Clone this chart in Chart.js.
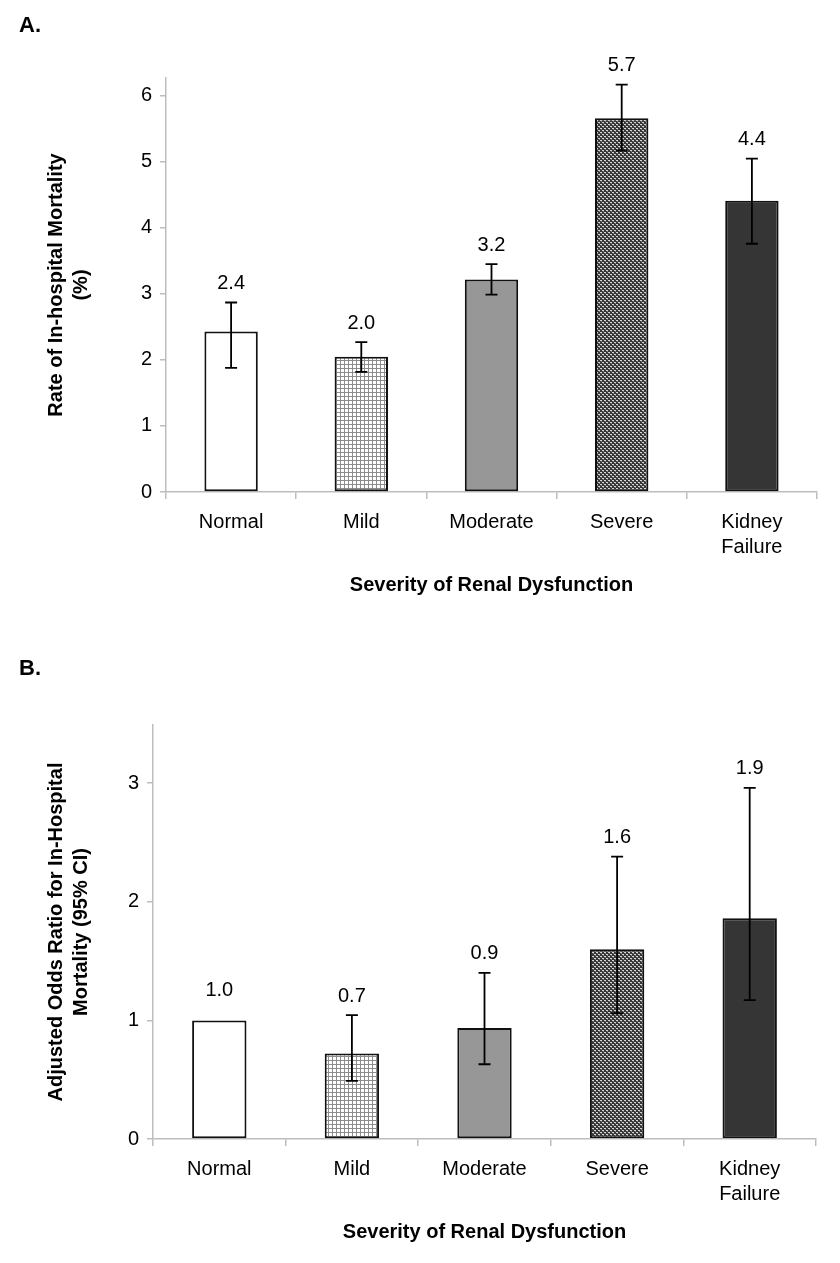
<!DOCTYPE html>
<html><head><meta charset="utf-8">
<script src="https://cdn.jsdelivr.net/npm/chart.js@4.4.1/dist/chart.umd.min.js"></script>
<style>
body{margin:0;background:#fff;width:840px;height:1263px;position:relative;overflow:hidden;font-family:"Liberation Sans",Arial,sans-serif}
.panel{position:absolute;left:0;width:840px}
.lbl{position:absolute;font-weight:bold;font-size:22px;color:#000;line-height:26px}
</style></head><body>
<div class="panel" style="top:0;height:620px"><canvas id="cA" width="840" height="620"></canvas></div>
<div class="panel" style="top:620px;height:643px"><canvas id="cB" width="840" height="643"></canvas></div>
<div class="lbl" style="left:19px;top:12px">A.</div>
<div class="lbl" style="left:19px;top:655px">B.</div>
<script>
const categories = ['Normal', 'Mild', 'Moderate', 'Severe', ['Kidney', 'Failure']];
const mortalityRate = [2.43, 2.05, 3.22, 5.66, 4.41];
const mortalityLow = [1.88, 1.82, 2.99, 5.17, 3.76];
const mortalityHigh = [2.87, 2.27, 3.45, 6.17, 5.05];
const mortalityLabels = ['2.4', '2.0', '3.2', '5.7', '4.4'];
const oddsRatio = [1.0, 0.72, 0.935, 1.60, 1.86];
const oddsLow = [null, 0.49, 0.63, 1.06, 1.17];
const oddsHigh = [null, 1.045, 1.40, 2.38, 2.96];
const oddsLabels = ['1.0', '0.7', '0.9', '1.6', '1.9'];
const yTicksA = [0, 1, 2, 3, 4, 5, 6];
const yTicksB = [0, 1, 2, 3];

const FONT = '"Liberation Sans", Arial, sans-serif';
const AXIS = '#bdbdbd';

function gridPattern() {
  const c = document.createElement('canvas'); c.width = c.height = 4;
  const g = c.getContext('2d');
  g.fillStyle = '#ffffff'; g.fillRect(0, 0, 4, 4);
  g.fillStyle = '#8c8c8c'; g.fillRect(0, 0, 4, 1); g.fillRect(0, 0, 1, 4);
  return g.createPattern(c, 'repeat');
}
function wovenPattern() {
  const c = document.createElement('canvas'); c.width = c.height = 4;
  const g = c.getContext('2d');
  g.fillStyle = '#363636'; g.fillRect(0, 0, 4, 4);
  g.fillStyle = '#d6d6d6'; g.fillRect(0, 0, 2, 1); g.fillRect(2, 2, 2, 1);
  g.fillStyle = '#7a7a7a'; g.fillRect(1, 1, 1, 1); g.fillRect(3, 3, 1, 1);
  return g.createPattern(c, 'repeat');
}
const fills = ['#ffffff', gridPattern(), '#979797', wovenPattern(), '#353535'];

const errorBarPlugin = {
  id: 'errbars',
  afterDatasetsDraw(chart, args, opts) {
    const ctx = chart.ctx, y = chart.scales.y;
    const meta = chart.getDatasetMeta(0);
    ctx.save();
    ctx.strokeStyle = '#000'; ctx.lineWidth = 1.8;
    meta.data.forEach((bar, i) => {
      const lo = opts.low[i], hi = opts.high[i];
      if (lo != null && hi != null) {
        const y1 = y.getPixelForValue(lo), y2 = y.getPixelForValue(hi);
        ctx.beginPath();
        ctx.moveTo(bar.x, y1); ctx.lineTo(bar.x, y2);
        ctx.moveTo(bar.x - 6, y1); ctx.lineTo(bar.x + 6, y1);
        ctx.moveTo(bar.x - 6, y2); ctx.lineTo(bar.x + 6, y2);
        ctx.stroke();
      }
      const top = Math.max(chart.data.datasets[0].data[i], hi == null ? -Infinity : hi);
      ctx.fillStyle = '#000';
      ctx.font = '20px ' + FONT;
      ctx.textAlign = 'center'; ctx.textBaseline = 'middle';
      ctx.fillText(opts.labels[i], bar.x, y.getPixelForValue(top) - (hi == null ? 30 : 19));
    });
    ctx.restore();
  }
};

function makeChart(id, values, low, high, labels, yMax, yTicks, yTitle, yWidth, pad, xHeight, xTitlePad) {
  return new Chart(document.getElementById(id), {
    type: 'bar',
    data: {
      labels: categories,
      datasets: [{
        data: values,
        backgroundColor: fills,
        borderColor: '#111',
        borderWidth: 2,
        borderSkipped: false,
        barPercentage: 0.41,
        categoryPercentage: 1
      }]
    },
    options: {
      responsive: false,
      animation: false,
      devicePixelRatio: 1,
      layout: { padding: pad },
      plugins: {
        legend: { display: false },
        tooltip: { enabled: false },
        errbars: { low: low, high: high, labels: labels }
      },
      scales: {
        x: {
          offset: true,
          grid: { offset: true, drawOnChartArea: false, drawTicks: true, tickLength: 7, color: AXIS, lineWidth: 1.5 },
          border: { color: AXIS, width: 1.5 },
          ticks: { color: '#000', font: { size: 20, family: FONT, lineHeight: 1.25 }, padding: 11, maxRotation: 0, autoSkip: false },
          title: { display: true, text: 'Severity of Renal Dysfunction', color: '#000', font: { size: 20, weight: 'bold', family: FONT, lineHeight: 1.2 }, padding: { top: 0, bottom: xTitlePad } },
          afterFit: s => { s.height = xHeight; }
        },
        y: {
          min: 0, max: yMax,
          afterBuildTicks: s => { s.ticks = yTicks.map(v => ({ value: v })); },
          grid: { drawOnChartArea: false, drawTicks: true, tickLength: 6, color: AXIS, lineWidth: 1.5 },
          border: { color: AXIS, width: 1.5 },
          ticks: { color: '#000', font: { size: 20, family: FONT }, padding: 8 },
          title: { display: true, text: yTitle, color: '#000', font: { size: 20, weight: 'bold', family: FONT, lineHeight: 1.25 }, padding: { top: 44, bottom: 0 } },
          afterFit: s => { s.width = yWidth; }
        }
      }
    },
    plugins: [errorBarPlugin]
  });
}

makeChart('cA', mortalityRate, mortalityLow, mortalityHigh, mortalityLabels, 6.27, yTicksA,
  ['Rate of In-hospital Mortality', '(%)'], 166, { left: 0, right: 23, top: 78, bottom: 0 }, 128, 23);
makeChart('cB', oddsRatio, oddsLow, oddsHigh, oddsLabels, 3.49, yTicksB,
  ['Adjusted Odds Ratio for In-Hospital', 'Mortality (95% CI)'], 153, { left: 0, right: 24, top: 105, bottom: 0 }, 124, 19);
</script>
</body></html>
